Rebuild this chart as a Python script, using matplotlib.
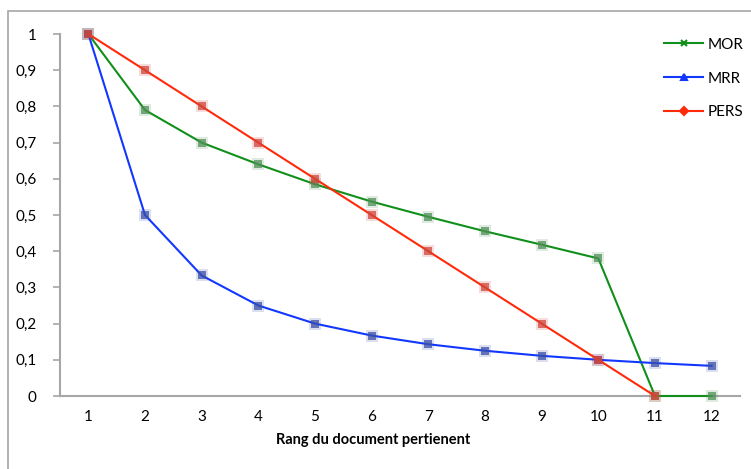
import matplotlib.pyplot as plt
from matplotlib.lines import Line2D
from matplotlib.patches import Rectangle
from matplotlib.ticker import FuncFormatter

plt.rcParams["font.family"] = ["Lato", "DejaVu Sans"]

rangs = [1, 2, 3, 4, 5, 6, 7, 8, 9, 10, 11, 12]
mor = [1, 0.79, 0.70, 0.64, 0.585, 0.537, 0.495, 0.455, 0.418, 0.38, 0, 0]
mrr = [1, 0.5, 0.333, 0.25, 0.2, 0.167, 0.143, 0.125, 0.111, 0.1, 0.0909, 0.0833]
pers = [1, 0.9, 0.8, 0.7, 0.6, 0.5, 0.4, 0.3, 0.2, 0.1, 0]
y_ticks = [0, 0.1, 0.2, 0.3, 0.4, 0.5, 0.6, 0.7, 0.8, 0.9, 1]

W, H = 751, 469
fig = plt.figure(figsize=(W / 100, H / 100), dpi=100)
fig.patches.append(Rectangle((8 / W, -0.1), 1.2, 1.1 - 11 / H, transform=fig.transFigure,
                             fill=False, edgecolor="#a6a6a6", linewidth=1.2))
ax = fig.add_axes([60 / W, 1 - 396 / H, 680 / W, 362 / H])

series = [
    ("MOR", mor, "#10901a", "#4f8f55", "x"),
    ("MRR", mrr, "#1237ff", "#3a4fa8", "^"),
    ("PERS", pers, "#ff2a0a", "#d0453a", "D"),
]
handles = []
for i, (name, vals, col, mcol, leg_m) in enumerate(series):
    xs = rangs[:len(vals)]
    ax.plot(xs, vals, color=col, linewidth=1.5, zorder=3 + i, clip_on=False)
    ax.plot(xs, vals, "s", markersize=9, color=mcol, alpha=0.18, markeredgewidth=0,
            zorder=3 + i, clip_on=False)
    ax.plot(xs, vals, "s", markersize=5.5, color=mcol, alpha=0.75, markeredgewidth=0,
            zorder=3 + i, clip_on=False)
    handles.append(Line2D([0], [0], color=col, linewidth=1.5, marker=leg_m,
                          markersize=4, markeredgewidth=1.5, label=name))

ax.set_xlim(0.5, 12.5)
ax.set_ylim(0, 1)
ax.set_xticks(rangs)
ax.set_yticks(y_ticks)
ax.yaxis.set_major_formatter(FuncFormatter(lambda v, p: ("%g" % round(v, 1)).replace(".", ",")))
ax.tick_params(axis="x", length=0, pad=10, labelsize=11)
ax.tick_params(axis="y", length=5, width=1.2, color="#a6a6a6", pad=12, labelsize=11)
for s in ["top", "right"]:
    ax.spines[s].set_visible(False)
for s in ["left", "bottom"]:
    ax.spines[s].set_color("#a6a6a6")
    ax.spines[s].set_linewidth(1.5)
ax.spines["bottom"].set_zorder(2)

fig.text(373 / W, 1 - 440 / H, "Rang du document pertienent", ha="center", va="center",
         fontsize=10.5, fontweight="bold")

ax.legend(handles=handles, loc="upper left", bbox_to_anchor=(650 / W, 1 - 24 / H),
          bbox_transform=fig.transFigure, frameon=False, fontsize=11,
          handlelength=2.6, handletextpad=0.3, labelspacing=1.3)

fig.savefig("out.png", dpi=100)
